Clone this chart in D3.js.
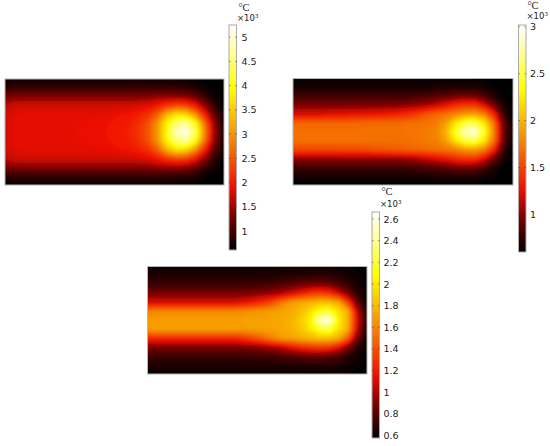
<!DOCTYPE html>
<html><head><meta charset="utf-8">
<script src="https://cdn.jsdelivr.net/npm/d3@7"></script>
<style>html,body{margin:0;padding:0;background:#fff}svg{display:block}</style>
</head><body><svg id="c" width="550" height="446"></svg>
<script>
const colorStops = [0, 0.14, 0.28, 0.5, 0.72, 0.87, 1];
const colorValues = ["#000000", "#700000", "#f01000", "#f58c05", "#ffff00", "#ffff90", "#ffffff"];

const ticksA = [1, 1.5, 2, 2.5, 3, 3.5, 4, 4.5, 5];
const ticksB = [1, 1.5, 2, 2.5, 3];
const ticksC = [0.6, 0.8, 1, 1.2, 1.4, 1.6, 1.8, 2, 2.2, 2.4, 2.6];
const rangeA = [0.61, 5.25];
const rangeB = [0.6, 3.02];
const rangeC = [0.577, 2.665];

const gridA = [
[.68,.68,.68,.68,.68,.68,.68,.68,.68,.68,.68,.68,.68,.68,.68,.68,.68,.68,.68,.66,.64,.62,.61,.61],
[.9,.95,.95,.95,.95,.95,.95,.95,.95,.95,.95,.95,.95,.95,.95,.95,.95,.95,.92,.88,.8,.7,.63,.61],
[1.3,1.38,1.38,1.38,1.38,1.38,1.38,1.38,1.38,1.38,1.38,1.38,1.38,1.38,1.38,1.4,1.45,1.45,1.45,1.42,1.25,.95,.72,.61],
[1.65,1.74,1.76,1.76,1.76,1.76,1.76,1.76,1.76,1.76,1.76,1.76,1.76,1.78,1.8,1.88,2,2.25,2.4,2.35,2.0,1.45,.9,.63],
[1.75,1.84,1.86,1.86,1.86,1.86,1.86,1.86,1.86,1.87,1.88,1.9,1.92,1.96,2.05,2.2,2.6,3.3,3.7,3.6,3.0,2.05,1.15,.68],
[1.78,1.87,1.88,1.88,1.88,1.88,1.88,1.88,1.89,1.9,1.91,1.93,1.96,2.03,2.18,2.45,3,3.9,4.55,4.7,4.05,2.7,1.4,.72],
[1.78,1.87,1.88,1.88,1.88,1.88,1.88,1.88,1.89,1.9,1.91,1.94,1.98,2.07,2.23,2.5,3.05,4,4.95,5.2,4.4,2.85,1.5,.75],
[1.78,1.87,1.88,1.88,1.88,1.88,1.88,1.88,1.89,1.9,1.91,1.93,1.96,2.03,2.18,2.45,3,3.9,4.55,4.7,4.05,2.7,1.4,.72],
[1.75,1.84,1.86,1.86,1.86,1.86,1.86,1.86,1.86,1.87,1.88,1.9,1.92,1.96,2.05,2.2,2.6,3.3,3.7,3.6,3.0,2.05,1.15,.68],
[1.65,1.74,1.76,1.76,1.76,1.76,1.76,1.76,1.76,1.76,1.76,1.76,1.76,1.78,1.8,1.88,2,2.25,2.4,2.35,2.0,1.45,.9,.63],
[1.3,1.38,1.38,1.38,1.38,1.38,1.38,1.38,1.38,1.38,1.38,1.38,1.38,1.38,1.38,1.4,1.45,1.45,1.45,1.42,1.25,.95,.72,.61],
[.85,.9,.9,.9,.9,.9,.9,.9,.9,.9,.9,.9,.9,.9,.9,.9,.9,.9,.88,.85,.78,.68,.62,.61],
[.64,.65,.65,.65,.65,.65,.65,.65,.65,.65,.65,.65,.65,.65,.65,.65,.65,.65,.65,.65,.63,.62,.61,.61]
];

const gridB = [
[.62,.62,.62,.62,.62,.62,.62,.62,.62,.62,.62,.62,.62,.62,.62,.62,.62,.62,.62,.62,.61,.6,.6,.6],
[.68,.68,.68,.68,.68,.68,.68,.68,.68,.68,.68,.68,.68,.68,.68,.69,.7,.7,.7,.7,.67,.63,.6,.6],
[.8,.8,.8,.8,.8,.8,.8,.8,.8,.8,.8,.8,.8,.82,.85,.88,.9,.95,.97,.95,.85,.72,.62,.6],
[.98,.98,.98,.98,.98,.98,.98,.98,.98,.98,1,1,1.03,1.06,1.1,1.18,1.28,1.4,1.45,1.45,1.25,.95,.7,.6],
[1.22,1.22,1.22,1.22,1.25,1.25,1.28,1.28,1.3,1.3,1.33,1.36,1.4,1.48,1.58,1.66,1.72,1.78,1.88,1.9,1.78,1.38,.78,.6],
[1.66,1.66,1.66,1.66,1.66,1.66,1.66,1.66,1.68,1.68,1.68,1.68,1.7,1.7,1.72,1.75,1.92,2.25,2.5,2.55,2.25,1.72,.9,.62],
[1.7,1.7,1.7,1.7,1.7,1.7,1.7,1.7,1.7,1.7,1.7,1.7,1.72,1.72,1.75,1.8,2.02,2.45,2.85,2.95,2.45,1.78,.92,.62],
[1.7,1.7,1.7,1.7,1.7,1.7,1.7,1.7,1.7,1.7,1.7,1.7,1.7,1.72,1.74,1.77,1.92,2.25,2.5,2.55,2.25,1.72,.9,.62],
[1.52,1.52,1.52,1.52,1.52,1.54,1.54,1.54,1.56,1.58,1.6,1.62,1.64,1.66,1.68,1.7,1.74,1.78,1.88,1.9,1.78,1.38,.78,.6],
[1.05,1.05,1.05,1.05,1.05,1.05,1.05,1.05,1.05,1.05,1.05,1.05,1.08,1.12,1.18,1.25,1.3,1.4,1.45,1.45,1.25,.95,.7,.6],
[.8,.8,.8,.8,.8,.8,.8,.8,.8,.8,.8,.8,.8,.82,.85,.88,.9,.95,.97,.95,.85,.72,.62,.6],
[.68,.68,.68,.68,.68,.68,.68,.68,.68,.68,.68,.68,.68,.68,.68,.69,.7,.7,.7,.7,.67,.63,.6,.6],
[.6,.6,.6,.6,.6,.6,.6,.6,.6,.6,.6,.6,.6,.6,.6,.6,.6,.6,.6,.6,.6,.6,.6,.6]
];

const gridC = [
[.62,.62,.62,.62,.62,.62,.62,.62,.62,.62,.62,.62,.62,.62,.62,.62,.62,.62,.62,.62,.61,.6,.59,.59],
[.66,.66,.66,.66,.66,.66,.66,.66,.66,.66,.66,.66,.66,.66,.67,.67,.68,.69,.69,.69,.67,.63,.6,.59],
[.74,.74,.74,.74,.74,.74,.74,.74,.74,.74,.74,.74,.75,.77,.8,.82,.86,.89,.9,.88,.8,.72,.64,.59],
[.9,.9,.9,.9,.9,.9,.9,.9,.9,.9,.91,.92,.94,.97,1.03,1.1,1.2,1.3,1.35,1.3,1.12,.92,.7,.6],
[1.1,1.1,1.1,1.1,1.1,1.1,1.1,1.1,1.1,1.1,1.14,1.2,1.28,1.38,1.55,1.68,1.75,1.78,1.82,1.82,1.75,1.35,.84,.62],
[1.6,1.62,1.62,1.62,1.62,1.62,1.62,1.62,1.62,1.62,1.64,1.66,1.68,1.7,1.72,1.75,1.82,1.95,2.15,2.2,1.98,1.75,1.05,.65],
[1.7,1.7,1.7,1.7,1.7,1.7,1.7,1.7,1.7,1.7,1.71,1.72,1.72,1.73,1.74,1.78,1.88,2.05,2.5,2.65,2.05,1.78,1.1,.65],
[1.7,1.7,1.7,1.7,1.7,1.7,1.7,1.7,1.7,1.7,1.7,1.71,1.72,1.72,1.74,1.78,1.85,1.98,2.18,2.22,1.98,1.75,1.05,.65],
[1.25,1.25,1.25,1.25,1.25,1.25,1.25,1.25,1.25,1.25,1.3,1.38,1.48,1.58,1.68,1.72,1.76,1.8,1.84,1.84,1.76,1.45,.88,.62],
[.9,.9,.9,.9,.9,.9,.9,.9,.9,.9,.91,.92,.95,1,1.05,1.15,1.25,1.3,1.32,1.3,1.15,.92,.7,.6],
[.74,.74,.74,.74,.74,.74,.74,.74,.74,.74,.74,.74,.75,.76,.78,.8,.82,.84,.84,.82,.78,.7,.63,.59],
[.66,.66,.66,.66,.66,.66,.66,.66,.66,.66,.66,.66,.66,.66,.67,.67,.68,.68,.68,.68,.65,.62,.6,.59],
[.6,.6,.6,.6,.6,.6,.6,.6,.6,.6,.6,.6,.6,.6,.6,.6,.6,.6,.6,.6,.6,.6,.59,.59]
];

const panels = [
  {grid: gridA, range: rangeA, ticks: ticksA, box: [5, 79, 224, 185], bar: [229, 25, 236.5, 250], cx: 244, cy: 10.5, mx: 237, my: 21, lx: 241.5},
  {grid: gridB, range: rangeB, ticks: ticksB, box: [293, 78.5, 513, 185], bar: [518.5, 25, 526, 252], cx: 533, cy: 9, mx: 526.5, my: 19, lx: 530},
  {grid: gridC, range: rangeC, ticks: ticksC, box: [147.5, 266.5, 367, 374], bar: [372, 212, 379.5, 438], cx: 387, cy: 195, mx: 380, my: 207, lx: 383.5}
];

const svg = d3.select("#c");
const defs = svg.append("defs");
defs.append("filter").attr("id", "soft")
  .attr("x", "-5%").attr("y", "-5%").attr("width", "110%").attr("height", "110%")
  .append("feGaussianBlur").attr("stdDeviation", 1.5);
const barGrad = defs.append("linearGradient").attr("id", "barGrad")
  .attr("x1", 0).attr("y1", 1).attr("x2", 0).attr("y2", 0);
colorStops.forEach((s, i) => barGrad.append("stop").attr("offset", s).attr("stop-color", colorValues[i]));

const frac = d3.scaleLinear().domain(colorStops).range(colorValues).clamp(true);

panels.forEach((p, k) => {
  const [x0, y0, x1, y1] = p.box;
  const nx = p.grid[0].length, ny = p.grid.length;
  const xs = d3.scaleLinear().domain([0.5, nx - 0.5]).range([x0, x1]);
  const ys = d3.scaleLinear().domain([0.5, ny - 0.5]).range([y0, y1]);
  const tone = d3.scaleLinear().domain(p.range).range([0, 1]);
  const values = p.grid.flat();
  const levels = d3.range(0, 121).map(i => p.range[0] + (p.range[1] - p.range[0]) * i / 120);
  const contours = d3.contours().size([nx, ny]).smooth(true).thresholds(levels)(values);
  const path = d3.geoPath(d3.geoTransform({point(x, y) { this.stream.point(xs(x), ys(y)); }}));

  defs.append("clipPath").attr("id", "clip" + k).append("rect")
    .attr("x", x0).attr("y", y0).attr("width", x1 - x0).attr("height", y1 - y0);

  const g = svg.append("g").attr("clip-path", `url(#clip${k})`);
  g.append("rect").attr("x", x0).attr("y", y0).attr("width", x1 - x0).attr("height", y1 - y0).attr("fill", "#000");
  g.append("g").attr("filter", "url(#soft)")
    .selectAll("path").data(contours).join("path")
    .attr("d", path)
    .attr("fill", d => frac(tone(d.value)));

  svg.append("rect").attr("x", x0).attr("y", y0).attr("width", x1 - x0).attr("height", y1 - y0)
    .attr("fill", "none").attr("stroke", "#b5b5b5").attr("stroke-width", 1);

  const [bx0, by0, bx1, by1] = p.bar;
  svg.append("rect").attr("x", bx0).attr("y", by0).attr("width", bx1 - bx0).attr("height", by1 - by0)
    .attr("fill", "url(#barGrad)").attr("stroke", "#aaa").attr("stroke-width", 1);

  const yBar = d3.scaleLinear().domain(p.range).range([by1, by0]);
  const axis = svg.append("g").attr("transform", `translate(${bx1},0)`)
    .call(d3.axisRight(yBar).tickValues(p.ticks).tickSize(0).tickPadding(p.lx - bx1).tickFormat(d => String(d)));
  axis.select(".domain").remove();
  axis.selectAll("text").attr("font-family", "DejaVu Sans").attr("font-size", 9.5).attr("fill", "#222");

  const marks = svg.append("g").attr("stroke", "#333").attr("stroke-opacity", 0.65).attr("stroke-width", 0.8);
  marks.selectAll("line.l").data(p.ticks).join("line").attr("class", "l")
    .attr("x1", bx0).attr("x2", bx0 + 1.5).attr("y1", d => yBar(d)).attr("y2", d => yBar(d));
  marks.selectAll("line.r").data(p.ticks).join("line").attr("class", "r")
    .attr("x1", bx1 - 1.5).attr("x2", bx1).attr("y1", d => yBar(d)).attr("y2", d => yBar(d));

  svg.append("text").attr("x", p.cx).attr("y", p.cy).attr("text-anchor", "middle")
    .attr("font-family", "Liberation Serif").attr("font-size", 10.5).attr("fill", "#222").text("°C");
  const m = svg.append("text").attr("x", p.mx).attr("y", p.my)
    .attr("font-family", "DejaVu Sans").attr("font-size", 8.5).attr("fill", "#222");
  m.append("tspan").text("×10");
  m.append("tspan").attr("dy", -3).attr("font-size", 5.5).text("3");
});
</script></body></html>
